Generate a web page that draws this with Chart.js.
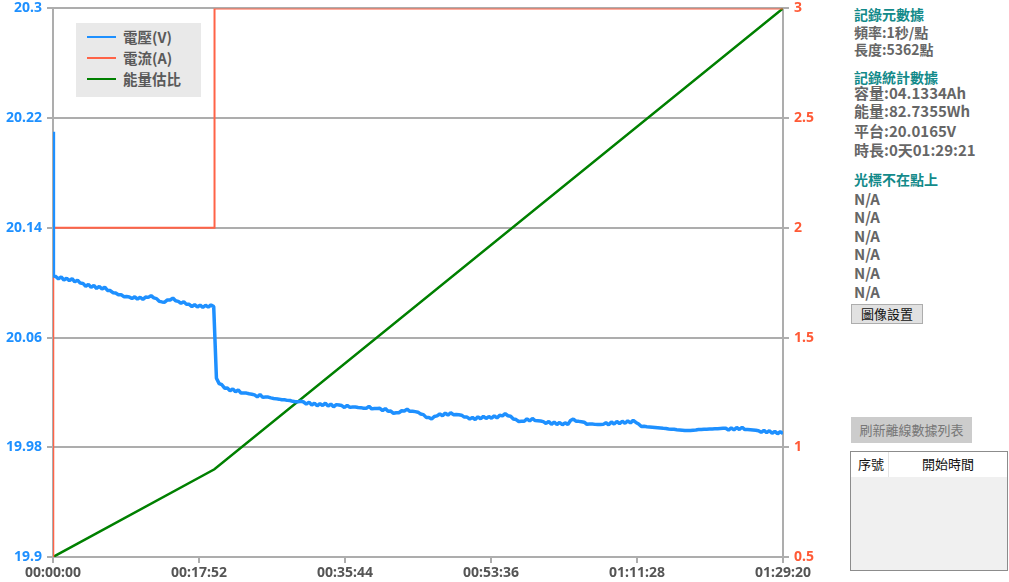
<!DOCTYPE html>
<html>
<head>
<meta charset="utf-8">
<script src="https://cdn.jsdelivr.net/npm/chart.js@4.4.1/dist/chart.umd.min.js"></script>
<style>
  body { margin: 0; background: #fff; font-family: "Noto Sans CJK TC", "Noto Sans", sans-serif; overflow: hidden; }
  #wrap { position: absolute; left: 0; top: -5px; width: 840px; height: 587px; }
  #legend { position: absolute; left: 76px; top: 23px; width: 125px; height: 74px; background: #e9e9e9; }
  .lg-item { position: absolute; left: 11px; height: 18px; }
  .lg-line { position: absolute; left: 0; top: 8px; width: 29px; height: 2px; }
  .lg-text { position: absolute; left: 36px; top: 0; line-height: 18px; font-size: 14.5px; font-weight: bold; color: #5a5a5a; white-space: nowrap; }
  .p { position: absolute; left: 854px; line-height: 18px; font-weight: bold; color: #666; white-space: nowrap; font-size: 14px; }
  .h { color: #138a8a; }
  .v { font-size: 15px; }
  .btn { position: absolute; box-sizing: border-box; text-align: center; font-size: 13px; white-space: nowrap; }
</style>
</head>
<body>
<div id="wrap"><canvas id="chart"></canvas></div>
<div id="legend"></div>

<div class="p h" style="top:5px">記錄元數據</div>
<div class="p" style="top:23px">頻率:1秒/點</div>
<div class="p" style="top:40px">長度:5362點</div>
<div class="p h" style="top:68px">記錄統計數據</div>
<div class="p v" style="top:84px">容量:04.1334Ah</div>
<div class="p v" style="top:102px">能量:82.7355Wh</div>
<div class="p v" style="top:122px">平台:20.0165V</div>
<div class="p v" style="top:141px">時長:0天01:29:21</div>
<div class="p h" style="top:170px">光標不在點上</div>
<div class="p v" style="top:190px">N/A</div>
<div class="p v" style="top:208px">N/A</div>
<div class="p v" style="top:227px">N/A</div>
<div class="p v" style="top:245px">N/A</div>
<div class="p v" style="top:264px">N/A</div>
<div class="p v" style="top:283px">N/A</div>
<div class="btn" style="left:851px;top:304px;width:72px;height:20px;line-height:18px;background:#e1e1e1;border:1px solid #adadad;color:#111">圖像設置</div>
<div class="btn" style="left:851px;top:417px;width:121px;height:26px;line-height:26px;background:#cccccc;color:#777">刷新離線數據列表</div>
<div style="position:absolute;left:850px;top:451px;width:158px;height:120px;box-sizing:border-box;border:1px solid #8c8c8c;background:#f0f0f0">
  <div style="position:absolute;left:0;top:0;width:156px;height:25px;background:#fff"></div>
  <div style="position:absolute;left:37px;top:0;width:1px;height:25px;background:#e4e4e4"></div>
  <div style="position:absolute;left:7px;top:3px;font-size:13px;line-height:18px;color:#111">序號</div>
  <div style="position:absolute;left:38px;width:118px;top:3px;font-size:13px;line-height:18px;color:#111;text-align:center">開始時間</div>
</div>

<script>
// series names and colours
const seriesNames = ["電壓(V)", "電流(A)", "能量估比"];
const seriesColors = ["#1e90ff", "#ff6347", "#008000"];

// voltage: start spike, then one value every 20 s from t=20 to t=5360
const voltSpikeT = [0, 3];
const voltSpikeV = [20.21, 20.105];
const voltStepSec = 20;
const voltage = [
  20.1045, 20.1028, 20.1042, 20.1020, 20.1033, 20.1015, 20.1029, 20.1006, 20.1019, 20.0997,
  20.0995, 20.0974, 20.0988, 20.0966, 20.0980, 20.0958, 20.0973, 20.0954, 20.0967, 20.0944,
  20.0943, 20.0927, 20.0925, 20.0912, 20.0913, 20.0898, 20.0899, 20.0896, 20.0884, 20.0897,
  20.0880, 20.0894, 20.0878, 20.0895, 20.0893, 20.0906, 20.0889, 20.0884, 20.0864, 20.0860,
  20.0858, 20.0874, 20.0874, 20.0888, 20.0868, 20.0864, 20.0849, 20.0862, 20.0842, 20.0842,
  20.0826, 20.0840, 20.0823, 20.0837, 20.0820, 20.0835, 20.0822, 20.0838, 20.0826,
  20.0304, 20.0264, 20.0256, 20.0231, 20.0232, 20.0212, 20.0226, 20.0205, 20.0218, 20.0196,
  20.0196, 20.0195, 20.0190, 20.0187, 20.0182, 20.0168, 20.0185, 20.0164, 20.0167, 20.0166,
  20.0160, 20.0156, 20.0153, 20.0151, 20.0147, 20.0146, 20.0142, 20.0141, 20.0135, 20.0132,
  20.0132, 20.0136, 20.0130, 20.0115, 20.0129, 20.0108, 20.0122, 20.0102, 20.0118, 20.0105,
  20.0122, 20.0100, 20.0115, 20.0095, 20.0111, 20.0108, 20.0104, 20.0090, 20.0106, 20.0091,
  20.0094, 20.0094, 20.0090, 20.0089, 20.0085, 20.0084, 20.0099, 20.0080, 20.0083, 20.0083,
  20.0084, 20.0068, 20.0082, 20.0062, 20.0064, 20.0048, 20.0052, 20.0052, 20.0066, 20.0065,
  20.0078, 20.0062, 20.0063, 20.0060, 20.0056, 20.0042, 20.0038, 20.0018, 20.0018, 20.0006,
  20.0025, 20.0029, 20.0044, 20.0030, 20.0049, 20.0035, 20.0052, 20.0038, 20.0039, 20.0037,
  20.0034, 20.0020, 20.0020, 20.0006, 20.0017, 20.0002, 20.0022, 20.0008, 20.0025, 20.0010,
  20.0024, 20.0012, 20.0029, 20.0014, 20.0033, 20.0029, 20.0045, 20.0030, 20.0026, 20.0006,
  20.0002, 19.9988, 19.9989, 19.9990, 20.0007, 19.9992, 20.0010, 19.9995, 19.9994, 19.9992,
  19.9987, 19.9974, 19.9988, 19.9968, 19.9983, 19.9966, 19.9981, 19.9964, 19.9978, 19.9966,
  19.9995, 20.0006, 19.9990, 19.9989, 19.9986, 19.9983, 19.9968, 19.9970, 19.9969, 19.9967,
  19.9966, 19.9966, 19.9967, 19.9979, 19.9964, 19.9984, 19.9970, 19.9988, 19.9973, 19.9990,
  19.9975, 19.9992, 19.9978, 19.9996, 19.9981, 19.9970, 19.9951, 19.9953, 19.9950, 19.9948,
  19.9946, 19.9944, 19.9942, 19.9940, 19.9938, 19.9937, 19.9934, 19.9932, 19.9931, 19.9928,
  19.9926, 19.9924, 19.9922, 19.9922, 19.9923, 19.9925, 19.9926, 19.9929, 19.9929, 19.9931,
  19.9932, 19.9933, 19.9934, 19.9935, 19.9936, 19.9937, 19.9938, 19.9939, 19.9925, 19.9941,
  19.9927, 19.9944, 19.9930, 19.9946, 19.9929, 19.9930, 19.9928, 19.9926, 19.9924, 19.9921,
  19.9909, 19.9924, 19.9907, 19.9921, 19.9902, 19.9916, 19.9899, 19.9913, 19.9900
];

// current steps
const currentT = [0, 2, 1185, 1186, 5360];
const currentA = [0.5, 2, 2, 3, 3];

// energy ratio
const energyT = [0, 1185, 5360];
const energyR = [0.5, 0.9, 3];

// axis ticks
const timeMax = 5360;
const timeStep = 1072;
const voltMin = 19.9, voltMax = 20.3, voltStep = 0.08;
const ampMin = 0.5, ampMax = 3, ampStep = 0.5;

const toPoints = (xs, ys) => xs.map((x, i) => ({ x, y: ys[i] }));
const voltPoints = toPoints(voltSpikeT, voltSpikeV)
    .concat(voltage.map((v, i) => ({ x: (i + 1) * voltStepSec, y: v })));

function fmtTime(sec) {
    const h = Math.floor(sec / 3600);
    const m = Math.floor((sec % 3600) / 60);
    const s = Math.round(sec % 60);
    const p = (n) => String(n).padStart(2, "0");
    return p(h) + ":" + p(m) + ":" + p(s);
}

// html legend
const legend = document.getElementById("legend");
seriesNames.forEach((name, i) => {
    const item = document.createElement("div");
    item.className = "lg-item";
    item.style.top = (5 + i * 21) + "px";
    item.innerHTML = '<div class="lg-line" style="background:' + seriesColors[i] + '"></div>' +
        '<div class="lg-text">' + name + '</div>';
    legend.appendChild(item);
});

const tickFont = { family: "'Noto Sans', sans-serif", size: 14, weight: "bold" };
const gridColor = "#adadad";

new Chart(document.getElementById("chart"), {
    type: "line",
    data: {
        datasets: [
            { label: seriesNames[0], data: voltPoints, yAxisID: "yV", borderColor: seriesColors[0], borderWidth: 3.5, borderJoinStyle: "bevel" },
            { label: seriesNames[1], data: toPoints(currentT, currentA), yAxisID: "yA", borderColor: seriesColors[1], borderWidth: 2 },
            { label: seriesNames[2], data: toPoints(energyT, energyR), yAxisID: "yA", borderColor: seriesColors[2], borderWidth: 2.5 },
        ],
    },
    options: {
        responsive: true,
        maintainAspectRatio: false,
        animation: false,
        events: [],
        layout: { padding: { top: 3, left: 0, right: 0, bottom: 0 } },
        elements: { point: { radius: 0 }, line: { tension: 0 } },
        plugins: { legend: { display: false }, tooltip: { enabled: false } },
        scales: {
            x: {
                type: "linear",
                min: 0,
                max: timeMax,
                afterFit: (s) => { s.height = 25; },
                grid: { drawOnChartArea: false, color: gridColor, lineWidth: 2, tickLength: 6 },
                border: { color: gridColor, width: 2 },
                ticks: {
                    stepSize: timeStep,
                    autoSkip: false,
                    maxRotation: 0,
                    padding: 2,
                    color: "#555",
                    font: tickFont,
                    callback: (v) => fmtTime(v),
                },
            },
            yV: {
                position: "left",
                min: voltMin,
                max: voltMax,
                afterFit: (s) => { s.width = 53; },
                grid: { color: gridColor, lineWidth: 2, tickLength: 6 },
                border: { color: gridColor, width: 2 },
                ticks: {
                    stepSize: voltStep,
                    padding: 5,
                    color: "#1e90ff",
                    font: tickFont,
                    callback: (v) => String(Number(v.toFixed(2))),
                },
            },
            yA: {
                position: "right",
                min: ampMin,
                max: ampMax,
                afterFit: (s) => { s.width = 57; },
                grid: { drawOnChartArea: false, color: gridColor, lineWidth: 2, tickLength: 6 },
                border: { color: gridColor, width: 2 },
                ticks: {
                    stepSize: ampStep,
                    padding: 5,
                    color: "#ff5a36",
                    font: tickFont,
                    callback: (v) => String(Number(v.toFixed(1))),
                },
            },
        },
    },
});
</script>
</body>
</html>
